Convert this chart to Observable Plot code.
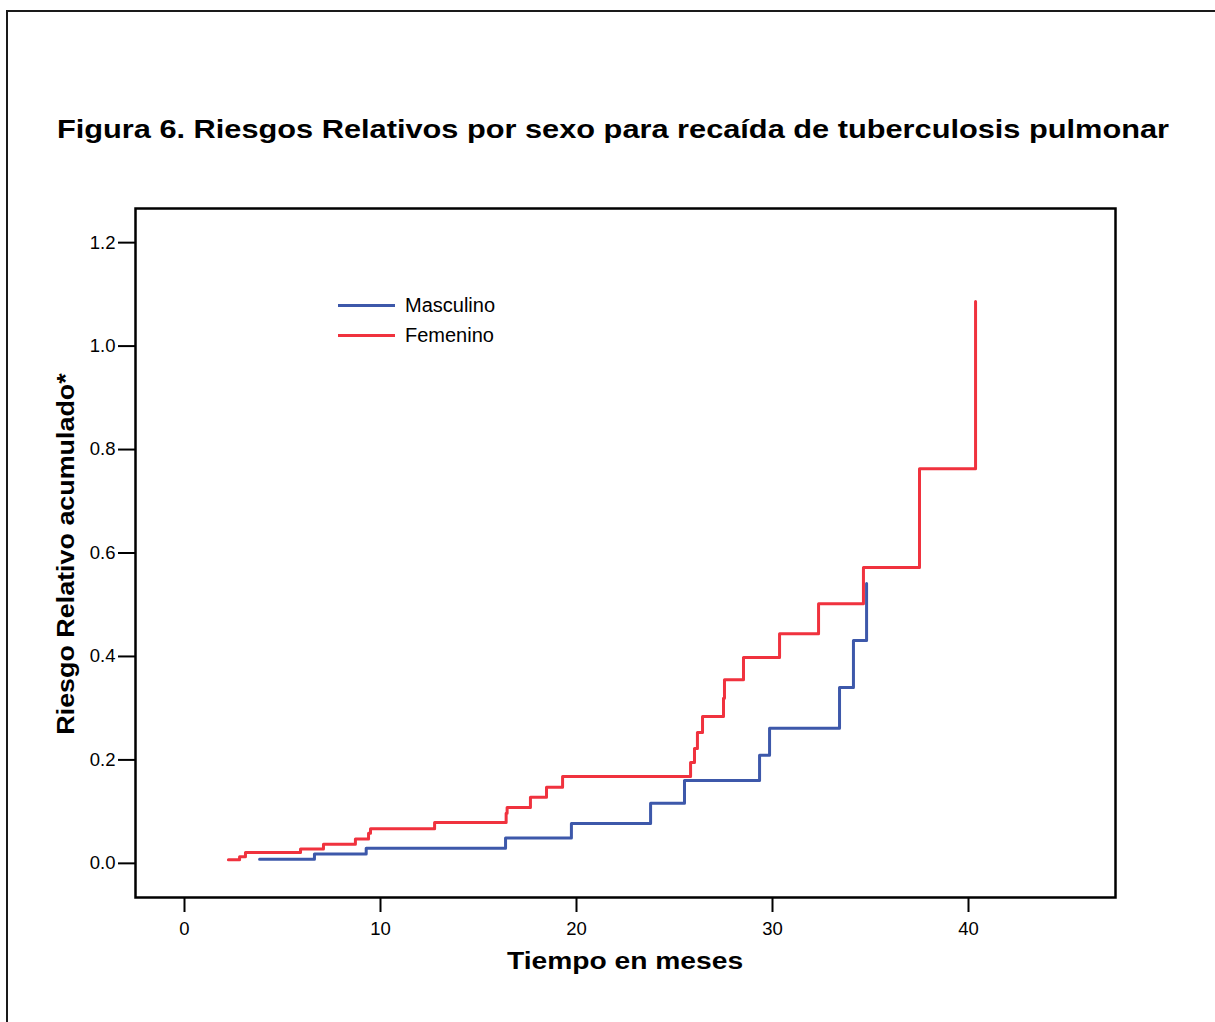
<!DOCTYPE html>
<html>
<head>
<meta charset="utf-8">
<script src="https://cdn.jsdelivr.net/npm/d3@7"></script>
<script src="https://cdn.jsdelivr.net/npm/@observablehq/plot@0.6"></script>
<style>
  html, body { margin: 0; padding: 0; background: #fff; overflow: hidden; width: 1215px; height: 1022px; }
  body { position: relative; font-family: "Liberation Sans", Arial, Helvetica, sans-serif; }
  #border { position: absolute; left: 6px; top: 10px; width: 2000px; height: 2000px; border: 2px solid #1a1a1a; box-sizing: border-box; z-index: 5; pointer-events: none; }
  #head { position: relative; height: 180px; }
  #title { position: absolute; left: 13px; width: 1200px; top: 116px; text-align: center; font-size: 26.5px; line-height: 27px; font-weight: bold; color: #000; transform: scaleX(1.16); transform-origin: 600px 50%; white-space: nowrap; }
  #chart { position: relative; }
  .xlab { position: absolute; left: 0; width: 1250px; top: 949px; text-align: center; font-size: 23.5px; line-height: 24px; font-weight: bold; transform: scaleX(1.2); transform-origin: 625px 50%; }
  .ylab { position: absolute; left: 66px; top: 554px; transform: translate(-50%, -50%) rotate(-90deg) scaleX(1.12); white-space: nowrap; font-size: 24px; line-height: 24px; font-weight: bold; }
  .legend { position: absolute; left: 338px; top: 290px; font-size: 20px; }
  .legend .row { display: flex; align-items: center; height: 30px; }
  .legend .sw { width: 57px; height: 3px; margin-right: 10px; }
</style>
</head>
<body>
<div id="border"></div>
<div id="head"><div id="title">Figura 6. Riesgos Relativos por sexo para recaída de tuberculosis pulmonar</div></div>
<div id="chart"></div>
<div class="xlab">Tiempo en meses</div>
<div class="ylab">Riesgo Relativo acumulado*</div>
<div class="legend" id="legend"></div>
<script>
const seriesNames = ["Masculino", "Femenino"];
const seriesColors = ["#3d58aa", "#f0323e"];

const mesesMasc = [3.83, 6.63, 9.27, 16.38, 19.74, 23.78, 25.51, 29.34, 29.85, 33.42, 34.13, 34.80];
const riesgoMasc = [0.008, 0.018, 0.029, 0.049, 0.077, 0.116, 0.160, 0.209, 0.261, 0.340, 0.431, 0.541];

const mesesFem = [2.24, 2.81, 3.11, 5.92, 7.09, 8.72, 9.39, 9.49, 12.76, 16.41, 16.46, 17.65, 18.47, 19.29,
                  25.82, 26.02, 26.17, 26.43, 27.50, 27.55, 28.52, 30.36, 32.35, 34.64, 37.50, 40.36];
const riesgoFem = [0.007, 0.013, 0.021, 0.028, 0.037, 0.047, 0.058, 0.067, 0.079, 0.097, 0.108, 0.128, 0.147, 0.168,
                   0.195, 0.222, 0.253, 0.284, 0.319, 0.355, 0.398, 0.444, 0.502, 0.572, 0.763, 1.086];

const xTicks = [0, 10, 20, 30, 40];
const yTicks = [0, 0.2, 0.4, 0.6, 0.8, 1.0, 1.2];

const data = [
  ...mesesMasc.map((t, i) => ({t, r: riesgoMasc[i], s: seriesNames[0]})),
  ...mesesFem.map((t, i) => ({t, r: riesgoFem[i], s: seriesNames[1]}))
];

const plot = Plot.plot({
  width: 1215,
  height: 842,
  marginLeft: 135,
  marginRight: 100,
  marginTop: 28,
  marginBottom: 125,
  style: { fontFamily: "'Liberation Sans', Arial, sans-serif", color: "#000", background: "transparent" },
  x: { domain: [-2.5, 47.5] },
  y: { domain: [-0.066, 1.266] },
  color: { domain: seriesNames, range: seriesColors },
  marks: [
    Plot.axisX({ ticks: xTicks, tickSize: 15, tickPadding: 9, fontSize: 18.5, strokeWidth: 2, label: null }),
    Plot.axisY({ ticks: yTicks, tickSize: 17, tickPadding: 3, fontSize: 18.5, strokeWidth: 2, tickFormat: d3.format(".1f"), label: null }),
    Plot.line(data, { x: "t", y: "r", z: "s", stroke: "s", strokeWidth: 3, curve: "step-after" }),
    Plot.frame({ stroke: "#000", strokeWidth: 2.5 })
  ]
});
document.getElementById("chart").appendChild(plot);

const legend = document.getElementById("legend");
seriesNames.forEach((n, i) => {
  const row = document.createElement("div");
  row.className = "row";
  row.innerHTML = `<div class="sw" style="background:${seriesColors[i]}"></div><span>${n}</span>`;
  legend.appendChild(row);
});
</script>
</body>
</html>
